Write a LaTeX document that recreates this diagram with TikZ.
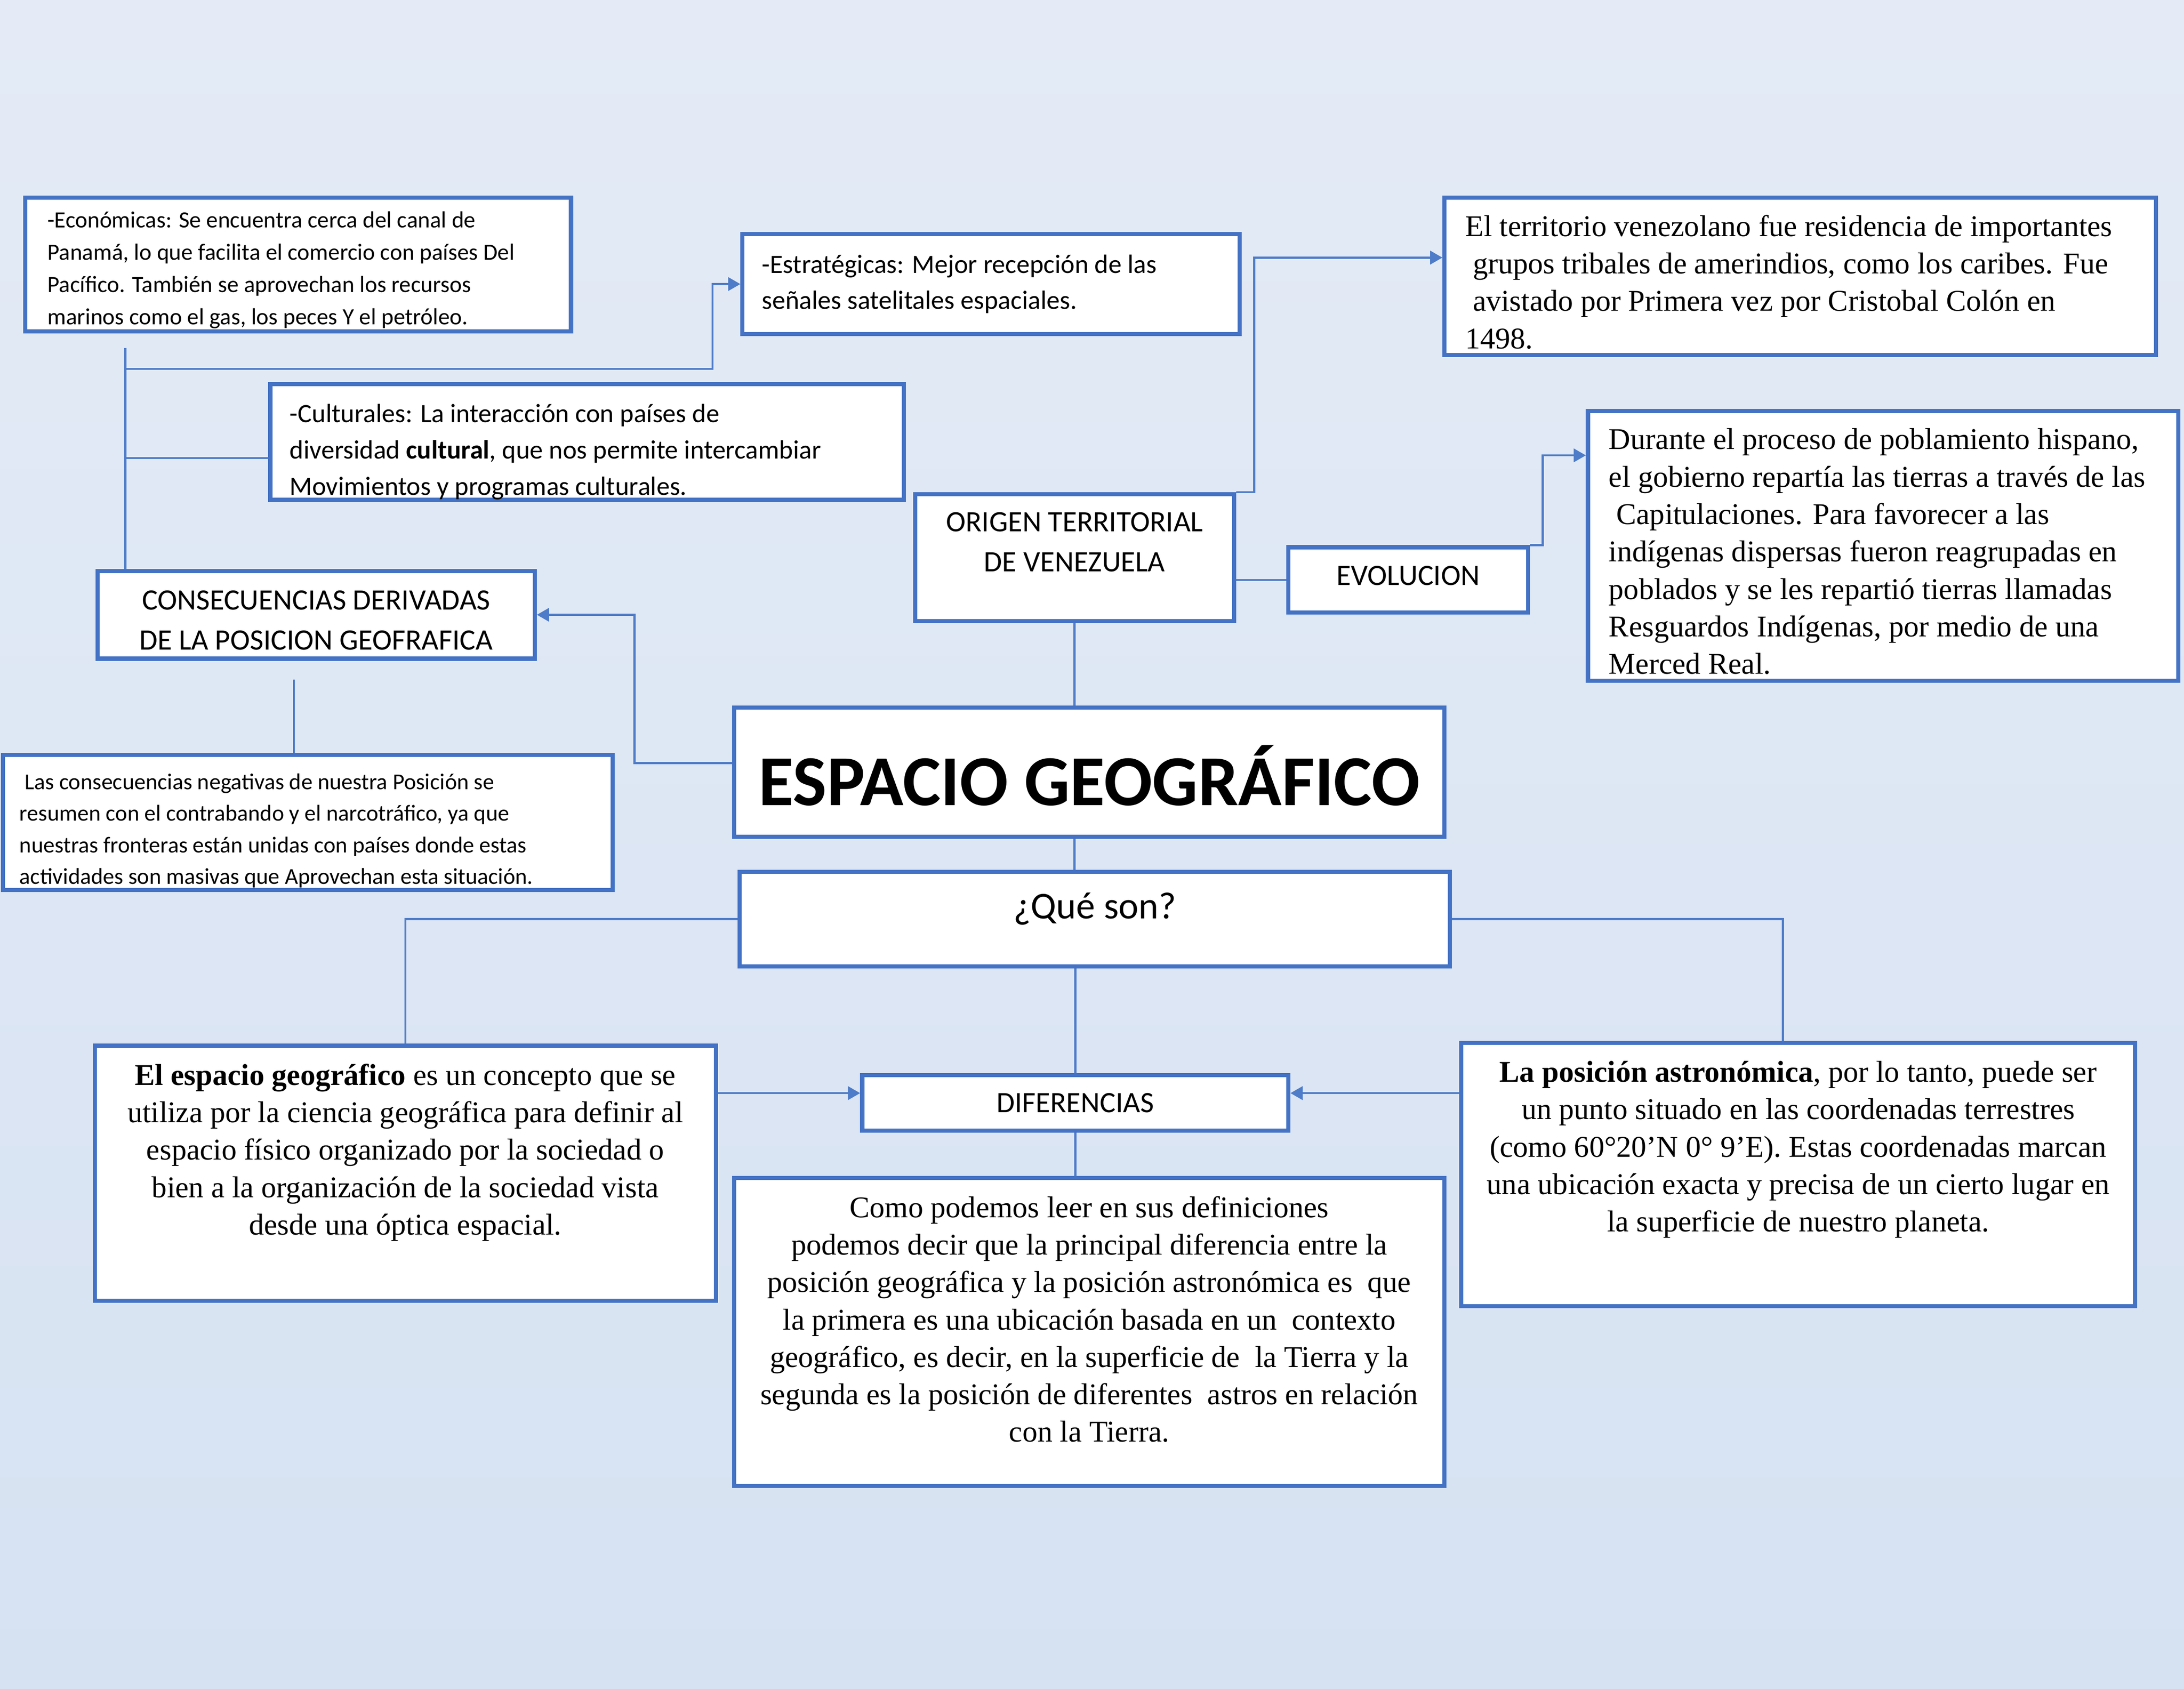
\documentclass[tikz,border=0pt]{standalone}
\usepackage{fontspec}
\setmainfont{Liberation Serif}
\setsansfont{Carlito}
\usepackage{tikz}
\usetikzlibrary{arrows.meta}
\definecolor{bgTop}{RGB}{228,235,246}
\definecolor{bgBottom}{RGB}{214,226,242}
\definecolor{boxBlue}{RGB}{68,114,196}
\definecolor{linkBlue}{RGB}{78,124,200}
\newcommand{\panetext}[4][c]{\parbox[c][#3][#1]{#2}{#4}}
\tikzset{
    panel/.style={rectangle, draw=boxBlue, line width=1.7pt, fill=white, inner sep=0pt, text=black},
    tinyText/.style={font=\sffamily\fontsize{9.3}{12.9}\selectfont},
    smallText/.style={font=\sffamily\fontsize{9.5}{13.2}\selectfont},
    midText/.style={font=\sffamily\fontsize{10.8}{14.8}\selectfont},
    capsText/.style={font=\sffamily\fontsize{12.1}{16.4}\selectfont},
    queText/.style={font=\sffamily\fontsize{15.5}{18}\selectfont},
    titleText/.style={font=\sffamily\bfseries\fontsize{29.3}{34}\selectfont},
    proseText/.style={font=\fontsize{12.3}{15.3}\selectfont},
    link/.style={draw=linkBlue, line width=0.85pt},
    arrow/.style={link, -{Triangle[length=5pt, width=5.5pt]}}
}
\begin{document}
\begin{tikzpicture}[x=0.02cm, y=-0.02cm]
    \useasboundingbox (0,0) rectangle (1568,1212.6);
    \shade[top color=bgTop, bottom color=bgBottom] (0,0) rectangle (1568,1212.6);

    % Top row
    \node[panel, smallText] (Eco) at (214,190) {\panetext{7.84cm}{1.92cm}{\raggedright\leftskip=0.32cm\vspace*{0.16cm}
        -Económicas: Se encuentra cerca del canal de\\
        Panamá, lo que facilita el comercio con países Del\\
        Pacífico. También se aprovechan los recursos\\
        marinos como el gas, los peces Y el petróleo.}};
    \node[panel, midText] (Estr) at (711.5,204) {\panetext{7.14cm}{1.44cm}{\raggedright\leftskip=0.28cm
        -Estratégicas: Mejor recepción de las\\
        señales satelitales espaciales.}};
    \node[panel, proseText] (Terr) at (1292.5,198.5) {\panetext{10.22cm}{2.26cm}{\raggedright\leftskip=0.3cm\vspace*{0.16cm}
        El territorio venezolano fue residencia de importantes\\
        \ grupos tribales de amerindios, como los caribes. Fue\\
        \ avistado por Primera vez por Cristobal Colón en\\
        1498.}};
    \node[panel, midText] (Cult) at (421.5,317.5) {\panetext{9.1cm}{1.66cm}{\raggedright\leftskip=0.28cm\vspace*{0.28cm}
        -Culturales: La interacción con países de\\
        diversidad \textbf{cultural}, que nos permite intercambiar\\
        Movimientos y programas culturales.}};

    % Middle
    \node[panel, capsText] (Orig) at (771.5,400.5) {\panetext[t]{4.58cm}{1.82cm}{\centering\vspace*{0.26cm}
        ORIGEN TERRITORIAL\\
        DE VENEZUELA}};
    \node[panel, capsText] (Evol) at (1011,416.5) {\panetext{3.44cm}{0.94cm}{\centering\vspace*{-0.12cm}EVOLUCION}};
    \node[panel, proseText] (Dur) at (1352,392) {\panetext{8.48cm}{3.88cm}{\raggedright\leftskip=0.3cm\vspace*{0.16cm}
        Durante el proceso de poblamiento hispano,\\
        el gobierno repartía las tierras a través de las\\
        \ Capitulaciones. Para favorecer a las\\
        indígenas dispersas fueron reagrupadas en\\
        poblados y se les repartió tierras llamadas\\
        Resguardos Indígenas, por medio de una\\
        Merced Real.}};
    \node[panel, capsText] (Cons) at (227,441.5) {\panetext{6.28cm}{1.26cm}{\centering\vspace*{0.16cm}
        CONSECUENCIAS DERIVADAS\\
        DE LA POSICION GEOFRAFICA}};
    \node[panel, tinyText] (Negs) at (221,590.5) {\panetext{8.76cm}{1.94cm}{\raggedright\leftskip=0.24cm\vspace*{0.24cm}
        \ Las consecuencias negativas de nuestra Posición se\\
        resumen con el contrabando y el narcotráfico, ya que\\
        nuestras fronteras están unidas con países donde estas\\
        actividades son masivas que Aprovechan esta situación.}};
    \node[panel, titleText] (Esp) at (782,554.5) {\panetext{10.2cm}{1.86cm}{\centering\vspace*{0.1cm}ESPACIO GEOGRÁFICO}};
    \node[panel, queText] (Que) at (786,660) {\panetext[t]{10.2cm}{1.36cm}{\centering\vspace*{0.3cm}¿Qué son?}};

    % Bottom row
    \node[panel, proseText] (Defi) at (291,842.5) {\panetext[t]{8.92cm}{3.66cm}{\centering\vspace*{0.26cm}
        \textbf{El espacio geográfico} es un concepto que se\\
        utiliza por la ciencia geográfica para definir al\\
        espacio físico organizado por la sociedad o\\
        bien a la organización de la sociedad vista\\
        desde una óptica espacial.}};
    \node[panel, capsText] (Dif) at (772,792) {\panetext{6.12cm}{0.8cm}{\centering DIFERENCIAS}};
    \node[panel, proseText] (Como) at (782,956.5) {\panetext[t]{10.2cm}{4.42cm}{\centering\vspace*{0.26cm}
        Como podemos leer en sus definiciones\hspace*{0.84cm}\\
        podemos decir que la principal diferencia entre la\\
        posición geográfica y la posición astronómica es\ \ que\\
        la primera es una ubicación basada en un\ \ contexto\\
        geográfico, es decir, en la superficie de\ \ la Tierra y la\\
        segunda es la posición de diferentes\ \ astros en relación\\
        con la Tierra.}};
    \node[panel, proseText] (Pos) at (1291,843.5) {\panetext[t]{9.68cm}{3.78cm}{\centering\vspace*{0.26cm}
        \textbf{La posición astronómica}, por lo tanto, puede ser\\
        un punto situado en las coordenadas terrestres\\
        (como 60°20'N 0° 9'E). Estas coordenadas marcan\\
        una ubicación exacta y precisa de un cierto lugar en\\
        la superficie de nuestro planeta.}};

    % Left branch
    \coordinate (trunk) at (90,250);
    \coordinate (forkA) at (90,265);
    \coordinate (forkB) at (90,329);
    \coordinate (consFoot) at (211,488);
    \draw[link] (trunk) -- (trunk |- Cons.north);
    \draw[arrow] (forkA) -| ([xshift=-0.4cm]Estr.west) -- (Estr.west);
    \draw[link] (forkB) -- (forkB -| Cult.west);
    \draw[arrow] ([yshift=0.13cm]Esp.west) -| ([xshift=1.4cm]Cons.east) -- (Cons.east);
    \draw[link] (consFoot) -- (consFoot |- Negs.north);

    % Origin branch
    \draw[link] (Orig.south) -- (Orig.south |- Esp.north);
    \draw[arrow] (Orig.north east) -- ++(13,0) |- ([yshift=0.27cm]Terr.west);
    \draw[link] (Evol.west) -- (Evol.west -| Orig.east);
    \draw[arrow] (Evol.north east) -- ++(9,0) |- ([yshift=1.3cm]Dur.west);

    % Lower branch
    \draw[link] (Orig.south |- Esp.south) -- (Orig.south |- Que.north);
    \draw[link] (Que.west) -| (Defi.north);
    \draw[link] (Que.east) -| ([xshift=-0.22cm]Pos.north);
    \draw[link] (Que.south -| Dif.north) -- (Dif.north);
    \draw[arrow] ([yshift=0.14cm]Defi.east |- Dif.west) -- ([yshift=0.14cm]Dif.west);
    \draw[arrow] ([yshift=0.14cm]Pos.west |- Dif.east) -- ([yshift=0.14cm]Dif.east);
    \draw[link] (Dif.south) -- (Dif.south |- Como.north);
\end{tikzpicture}
\end{document}
